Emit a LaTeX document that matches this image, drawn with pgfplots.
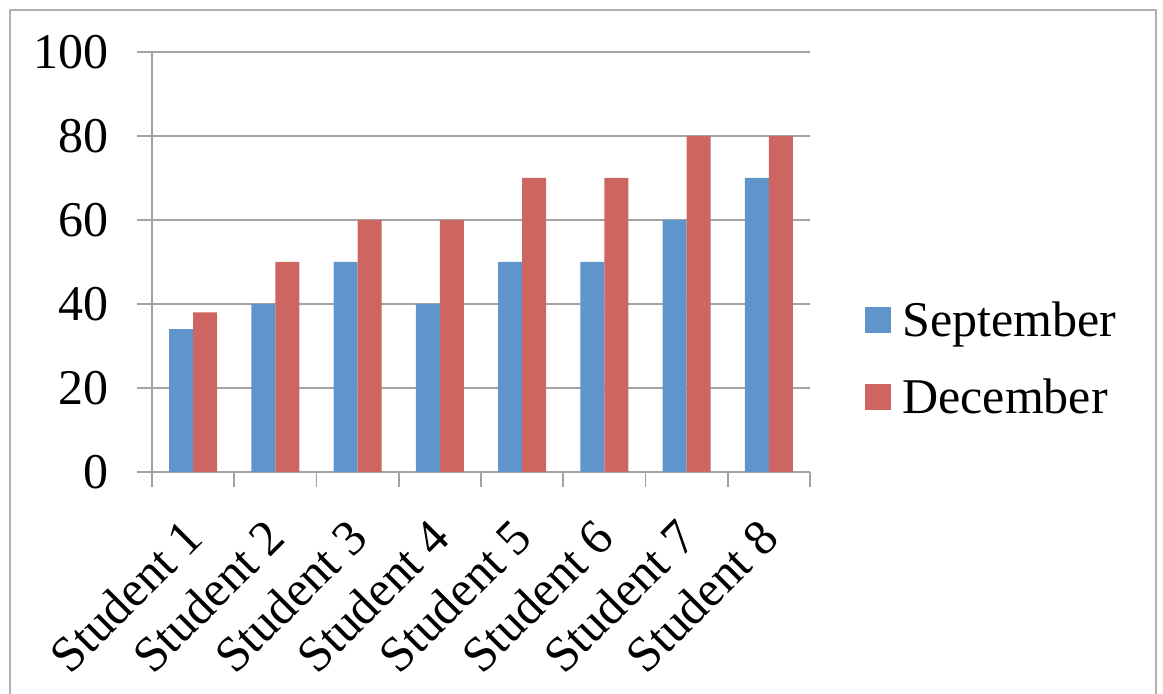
\documentclass[border=0pt]{standalone}
\usepackage{pgfplots}
\pgfplotsset{compat=1.18}
\usepackage{fontspec}
\setmainfont{Liberation Serif}
\definecolor{sepblue}{HTML}{5F95CA}
\definecolor{decred}{HTML}{CD6560}
\definecolor{gridgray}{HTML}{A3A3A3}
\definecolor{framegray}{HTML}{B0B0B0}
\begin{document}
\begin{tikzpicture}
\path[use as bounding box] (-76pt,-111pt) rectangle (505.5pt,236pt);
\draw[framegray, line width=0.9pt] (-71pt,-130pt) -- (-71pt,231pt) -- (502pt,231pt) -- (502pt,-130pt);
\begin{axis}[
  at={(0,0)}, anchor=south west,
  scale only axis, width=329pt, height=210pt,
  ybar=0pt, bar width=12pt,
  xmin=-0.5, xmax=7.5, ymin=0, ymax=100,
  xtick={0,...,7},
  xticklabels={Student 1,Student 2,Student 3,Student 4,Student 5,Student 6,Student 7,Student 8},
  minor xtick={-0.5,0.5,...,7.5},
  ytick={0,20,...,100},
  axis x line*=bottom, axis y line*=left,
  axis line style={draw=gridgray, line width=0.9pt, -},
  ymajorgrids, grid style={draw=gridgray, line width=0.9pt},
  tick align=outside,
  major x tick style={draw=none},
  minor x tick style={draw=gridgray, line width=0.9pt},
  minor tick length=7.5pt,
  major tick length=7.5pt,
  ytick style={draw=gridgray, line width=0.9pt},
  /pgf/number format/assume math mode=true,
  tick label style={font=\fontsize{25}{30}\selectfont},
  yticklabel style={xshift=-10.5pt},
  xticklabel style={rotate=45, anchor=north east, inner sep=0pt, yshift=-5.8pt, xshift=-14.5pt},
  legend style={draw=none, fill=none, at={(1,0.5)}, anchor=west, xshift=24.5pt, yshift=-48.5pt,
    font=\fontsize{25}{30}\selectfont, nodes={inner sep=0pt},
    row sep=19.5pt,
    /tikz/every odd column/.append style={column sep=5.5pt}},
  legend cell align=left,
  legend image code/.code={\fill[#1] (0pt,-6.25pt) rectangle (13pt,6.75pt);},
]
\addplot[fill=sepblue, draw=none] coordinates {(0,34) (1,40) (2,50) (3,40) (4,50) (5,50) (6,60) (7,70)};
\addplot[fill=decred, draw=none] coordinates {(0,38) (1,50) (2,60) (3,60) (4,70) (5,70) (6,80) (7,80)};
\legend{September, December}
\end{axis}
\end{tikzpicture}
\end{document}
